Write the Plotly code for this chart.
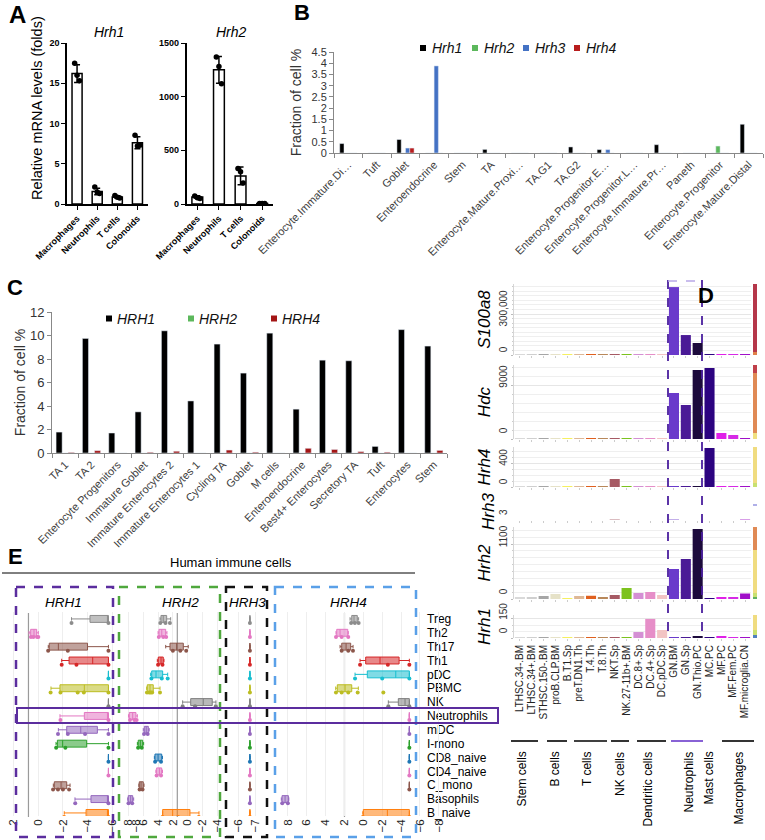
import plotly.graph_objects as go

W, H = 765, 840
FONT = "Arial, Liberation Sans, Helvetica, sans-serif"


def fx(p):
    return p / W


def fy(p):
    return 1 - p / H


def dom_x(a, b):
    return [fx(a), fx(b)]


def dom_y(top, bot):
    return [fy(bot), fy(top)]


def names(k):
    return ("x" if k == 1 else f"x{k}", "y" if k == 1 else f"y{k}",
            "xaxis" if k == 1 else f"xaxis{k}", "yaxis" if k == 1 else f"yaxis{k}")


def rgba(hexc, a):
    h = hexc.lstrip("#")
    return f"rgba({int(h[0:2],16)},{int(h[2:4],16)},{int(h[4:6],16)},{a})"


# ---------------- Panel A data ----------------
a_cats = ["Macrophages", "Neutrophils", "T cells", "Colonoids"]
a_hrh1_mean = [16.2, 1.55, 0.88, 7.6]
a_hrh1_sd = [1.1, 0.4, 0.15, 0.75]
a_hrh1_pts = [[17.5, 16.0, 15.3], [2.1, 1.5, 1.3], [1.05, 0.85, 0.75], [8.55, 7.2, 7.3]]
a_hrh2_mean = [65, 1250, 262, 4]
a_hrh2_sd = [12, 125, 82, 2]
a_hrh2_pts = [[75, 58, 52], [1370, 1280, 1120], [330, 300, 195], [4, 4, 4]]

# ---------------- Panel B data ----------------
b_cats = ["Enterocyte.Immature.Di…", "Tuft", "Goblet", "Enteroendocrine", "Stem", "TA",
          "Enterocyte.Mature.Proxi…", "TA.G1", "TA.G2", "Enterocyte.Progenitor.E…",
          "Enterocyte.Progenitor.L…", "Enterocyte.Immature.Pr…", "Paneth",
          "Enterocyte.Progenitor", "Enterocyte.Mature.Distal"]
b_hrh1 = [0.42, 0, 0.6, 0, 0, 0.16, 0, 0, 0.27, 0.15, 0, 0.37, 0, 0, 1.28]
b_hrh2 = [0, 0, 0, 0, 0, 0, 0, 0, 0, 0, 0, 0, 0, 0.31, 0]
b_hrh3 = [0, 0, 0.22, 3.88, 0, 0, 0, 0, 0, 0.15, 0, 0, 0, 0, 0]
b_hrh4 = [0, 0, 0.22, 0, 0, 0, 0, 0, 0, 0, 0, 0, 0, 0, 0]

# ---------------- Panel C data ----------------
c_cats = ["TA 1", "TA 2", "Enterocyte Progenitors", "Immature Goblet", "Immature Enterocytes 2",
          "Immature Enterocytes 1", "Cycling TA", "Goblet", "M cells", "Enteroendocrine",
          "Best4+ Enterocytes", "Secretory TA", "Tuft", "Enterocytes", "Stem"]
c_hrh1 = [1.78, 9.75, 1.7, 3.5, 10.4, 4.43, 9.27, 6.8, 10.2, 3.73, 7.9, 7.85, 0.56, 10.5, 9.1]
c_hrh2 = [0] * 15
c_hrh4 = [0.05, 0.2, 0, 0.06, 0.15, 0, 0.25, 0.07, 0, 0.4, 0.3, 0.12, 0.07, 0, 0.22]

# ---------------- Panel D data ----------------
d_cats = ["LTHSC.34-.BM", "LTHSC.34+.BM", "STHSC.150-.BM", "proB.CLP.BM", "B.T1.Sp",
          "preT.DN1.Th", "T.4.Th", "T.8.Th", "NKT.Sp", "NK.27-11b+.BM", "DC.8+.Sp",
          "DC.4+.Sp", "DC.pDC.Sp", "GN.BM", "GN.Sp", "GN.Thio.PC", "MC.PC", "MF.PC",
          "MF.Fem.PC", "MF.microglia.CN"]
d_colors = ["#d9d9d9", "#cfcfcf", "#a6a6a6", "#e6e2c8", "#f5f060", "#deb896", "#e0601e",
            "#b8885a", "#a65a64", "#7cc21e", "#d48fd4", "#e68ec8", "#f2c4c4", "#6a3acb",
            "#4a1a96", "#1c0a3c", "#2c0380", "#e020e8", "#d62ae6", "#a010c8"]
d_s100a8 = [800, 600, 900, 1500, 300, 200, 200, 200, 400, 1500, 1200, 1500, 1000,
            497000, 146000, 88000, 500, 600, 500, 300]
d_hdc = [20, 20, 30, 30, 10, 20, 15, 15, 30, 40, 60, 80, 100, 7670, 5670, 11500, 11830,
         1000, 670, 60]
d_hrh4 = [2, 2, 2, 2, 2, 2, 5, 2, 133, 10, 6, 3, 2, 1, 2, 4, 650, 2, 2, 2]
d_hrh3 = [0, 0, 0, 0, 0, 0, 0, 0, 0.15, 0, 0, 0, 0, 0.15, 0, 0, 0, 0, 0, 0.15]
d_hrh2 = [40, 40, 60, 100, 15, 60, 65, 35, 80, 220, 120, 140, 80, 600, 800, 1400, 15, 30,
          30, 110]
d_hrh1 = [2, 2, 2, 2, 2, 2, 2, 3, 2, 2, 47, 150, 63, 2, 2, 10, 2, 12, 2, 2]
d_groups = ["Stem cells", "B cells", "T cells", "NK cells", "Dendritic cells", "Neutrophils",
            "Mast cells", "Macrophages"]

# ---------------- Panel E data ----------------
e_cats = ["Treg", "Th2", "Th17", "Th1", "pDC", "PBMC", "NK", "Neutrophils", "mDC", "I-mono",
          "CD8_naive", "CD4_naive", "C_mono", "Basophils", "B_naive"]
e_colors = ["#8c8c8c", "#e377c2", "#8c564b", "#d62728", "#17becf", "#bcbd22", "#7f7f7f",
            "#e377c2", "#9467bd", "#2ca02c", "#1f77b4", "#e377c2", "#8c564b", "#9467bd",
            "#ff7f0e"]
F1, F4 = -5.7, -4.88
# [min, q1, median, q3, max]
e_hrh1 = [[F1, F1, F1, -4.2, -2.7], [0.0, 0.13, 0.35, 0.62, 0.75], [F1, -4.0, -1.63, -0.89, -0.81],
          [F1, F1, -4.42, -2.5, -1.9], [F1] * 5, [F1, F1, -3.74, -1.76, -1.03], [F1] * 5,
          [F1, F1, F1, -3.74, -1.76], [F1, -4.8, -3.45, -2.31, -1.63],
          [F1, -3.93, -1.98, -1.55, -1.44], [F1] * 5, [F1] * 5,
          [-2.58, -2.31, -1.85, -1.3, -1.22], [F1, F1, F1, -4.28, -2.98], [F1, F1, F1, -3.88, -2.11]]
e_hrh1_pts = [[-2.7, F1], [0.6, 0.4, 0.1, 0.0], [-0.8, -2.4, F1], [-1.9, -3.1, F1], [F1],
              [-1.0, -1.8, -3.2, -3.7, F1], [F1], [-1.8, F1], [-1.6, -2.4, -3.8, F1],
              [-1.45, -2.2, F1], [F1], [F1], [-1.2, -1.6, -2.0, -2.5], [-3.0, F1], [-2.1, F1]]
e_hrh2 = [[2.3, 2.84, 3.3, 3.61, 3.74], [2.8, 2.97, 3.5, 3.88, 4.0], [-0.08, 0.59, 1.49, 2.39, 2.97],
          [3.2, 3.3, 3.6, 3.97, 4.1], [2.7, 3.38, 4.28, 4.86, 5.0], [3.74, 4.65, 5.09, 5.46, 5.54],
          [-3.82, -3.32, -2.11, -0.41, 0.68], [6.8, 6.99, 7.43, 7.89, 8.0], [5.2, 5.32, 5.6, 5.86, 6.0],
          [5.95, 6.08, 6.4, 6.68, 6.8], [3.4, 3.51, 4.0, 4.42, 4.5], [3.4, 3.51, 3.8, 4.19, 4.3],
          [5.9, 6.0, 6.3, 6.54, 6.6], [7.3, 7.43, 7.7, 8.03, 8.1], [-1.53, -0.31, 2.03, 3.38, 3.38]]
e_hrh2_pts = [[3.7, 3.0, 2.4], [3.9, 3.3, 2.9], [2.0, 1.0, 0.2], [4.0, 3.4], [4.9, 3.5, 2.7],
              [5.5, 5.2, 5.0, 4.8, 3.74], [0.68, -1.0, -3.8], [7.8, 7.2, 6.9], [5.9, 5.4],
              [6.7, 6.2], [4.4, 3.6], [4.2, 3.6], [6.5, 6.1], [8.0, 7.5], [3.4, 1.3, -1.5]]
e_hrh3 = [[-6.7] * 5 for _ in range(15)]
e_hrh3_pts = [[-6.7] for _ in range(15)]
e_hrh4 = [[0.5, 0.64, 0.99, 1.23, 1.41], [1.59, 1.65, 2.47, 2.82, 2.9], [1.09, 1.34, 1.83, 2.29, 2.47],
          [F4, -3.79, -1.77, -0.25, 0.35], [F4, F4, -3.44, -0.42, 0.88], [0.53, 1.23, 1.94, 2.76, 2.93],
          [F4, F4, -4.42, -3.71, -2.65], [F4] * 5, [F4] * 5, [F4] * 5, [F4] * 5, [F4] * 5, [F4] * 5,
          [7.9, 7.95, 8.3, 8.62, 8.7], [F4, F4, -2.55, 0.0, 0.06]]
e_hrh4_pts = [[1.3, 0.9, 0.5], [2.9, 2.3, 1.6], [2.3, 1.6, 1.1], [0.35, -2.6, F4], [0.88, -2.0, F4],
              [2.9, 2.3, 1.6, 0.6, -2.12], [-2.65, F4], [F4], [F4], [F4], [F4], [F4], [F4],
              [8.6, 8.0], [0.05, F4]]
e_ref_line = [0.8, 1.4, None, 2.0]

fig = go.Figure()
L = {}
ann = []
shp = []


def add_text(t, x, y, size, angle=0, xa="center", ya="middle", color="black"):
    ann.append(dict(text=t, x=fx(x), y=fy(y), xref="paper", yref="paper", showarrow=False,
                    font=dict(size=size, color=color), xanchor=xa, yanchor=ya, textangle=angle))


def add_rect(x0, y0, x1, y1, color, width=0, dash="solid", fill=None):
    d = dict(type="rect", xref="paper", yref="paper", x0=fx(x0), x1=fx(x1), y0=fy(y0), y1=fy(y1),
             line=dict(color=color, width=width, dash=dash), layer="above")
    if fill:
        d["fillcolor"] = fill
    shp.append(d)


def add_line(x0, y0, x1, y1, color, width=1, dash="solid"):
    shp.append(dict(type="line", xref="paper", yref="paper", x0=fx(x0), x1=fx(x1), y0=fy(y0),
                    y1=fy(y1), line=dict(color=color, width=width, dash=dash), layer="above"))


def legend_item(label, color, sq_x, text_x, yc, size, sq=6):
    add_rect(sq_x, yc - sq / 2, sq_x + sq, yc + sq / 2, color, 0, fill=color)
    add_text(f"<i>{label}</i>", text_x, yc, size, xa="left", color="#111")


# ================= Panel A =================
JIT = [-0.12, 0.0, 0.12]
a_panels = [("Hrh1", a_hrh1_mean, a_hrh1_sd, a_hrh1_pts, 20, 5, (67, 147.5)),
            ("Hrh2", a_hrh2_mean, a_hrh2_sd, a_hrh2_pts, 1500, 500, (186.5, 273))]
for k, (nm, mean, sd, pts, ymax, dt, xd) in enumerate(a_panels, start=1):
    xa, ya, xk, yk = names(k)
    idx = list(range(len(a_cats)))
    fig.add_trace(go.Bar(x=idx, y=mean, width=0.5,
                         marker=dict(color="white", line=dict(color="black", width=1.5)),
                         error_y=dict(type="data", array=sd, color="black", thickness=1.5, width=3),
                         xaxis=xa, yaxis=ya, showlegend=False))
    sx, sy = [], []
    for i, vals in enumerate(pts):
        for j, v in enumerate(vals):
            sx.append(i + JIT[j])
            sy.append(v)
    fig.add_trace(go.Scatter(x=sx, y=sy, mode="markers", marker=dict(color="black", size=5.5),
                             xaxis=xa, yaxis=ya, showlegend=False))
    L[xk] = dict(domain=dom_x(*xd), anchor=ya, range=[-0.5, 3.5], tickvals=idx, ticktext=a_cats,
                 tickangle=-45, ticks="outside", ticklen=4, tickwidth=1.2, tickcolor="black",
                 showline=True, linecolor="black", linewidth=1.5, showgrid=False, zeroline=False,
                 tickfont=dict(size=9, weight="bold", color="black"))
    L[yk] = dict(domain=dom_y(43, 204), anchor=xa, range=[0, ymax], dtick=dt, ticks="outside",
                 ticklen=4, tickwidth=1.2, tickcolor="black", showline=True, linecolor="black",
                 linewidth=1.5, showgrid=False, zeroline=False,
                 tickfont=dict(size=9, weight="bold", color="black"))
    add_text(f"<i>{nm}</i>", (xd[0] + xd[1]) / 2 + 2, 32, 14)
add_text("Relative mRNA levels (folds)", 37, 108, 14.5, angle=-90)
add_text("<b>A</b>", 17, 14, 24)

# ================= Panel B =================
b_series = [("Hrh1", b_hrh1, "#000000"), ("Hrh2", b_hrh2, "#5cb85c"),
            ("Hrh3", b_hrh3, "#4472c4"), ("Hrh4", b_hrh4, "#b81d1d")]
b_leg_x = [420, 472, 523, 574]
for j, (nm, vals, col) in enumerate(b_series):
    fig.add_trace(go.Bar(x=b_cats, y=vals, name=nm, marker_color=col, width=0.15,
                         offset=-0.3 + 0.15 * j, xaxis="x3", yaxis="y3", showlegend=False))
    legend_item(nm, col, b_leg_x[j], b_leg_x[j] + 10, 48, 14)
L["xaxis3"] = dict(domain=dom_x(334, 763), anchor="y3", type="category", tickangle=-45,
                   tickfont=dict(size=11, color="#404040"), ticks="outside", tickson="boundaries",
                   ticklen=4, tickcolor="#888", showline=True, linecolor="#888", showgrid=False,
                   zeroline=False, tickmode="linear", dtick=1)
L["yaxis3"] = dict(domain=dom_y(52, 153), anchor="x3", range=[0, 4.5], dtick=0.5, ticks="outside",
                   ticklen=4, tickcolor="#888", showline=True, linecolor="#888", showgrid=False,
                   zeroline=False, tickfont=dict(size=11, color="#333"),
                   title=dict(text="Fraction of cell %", font=dict(size=14, color="#333"), standoff=6))
add_text("<b>B</b>", 302, 13, 22)

# ================= Panel C =================
c_series = [("HRH1", c_hrh1, "#000000"), ("HRH2", c_hrh2, "#5cb85c"), ("HRH4", c_hrh4, "#a31515")]
c_leg_x = [106, 188, 271]
for j, (nm, vals, col) in enumerate(c_series):
    fig.add_trace(go.Bar(x=c_cats, y=vals, name=nm, marker_color=col, width=0.23,
                         offset=-0.345 + 0.23 * j, xaxis="x4", yaxis="y4", showlegend=False))
    legend_item(nm, col, c_leg_x[j], c_leg_x[j] + 9, 318.5, 14)
L["xaxis4"] = dict(domain=dom_x(52, 447), anchor="y4", type="category", tickangle=-45,
                   tickfont=dict(size=11, color="#404040"), ticks="outside", tickson="boundaries",
                   ticklen=4, tickcolor="#888", showline=True, linecolor="#888", showgrid=False,
                   zeroline=False, tickmode="linear", dtick=1)
L["yaxis4"] = dict(domain=dom_y(312, 453), anchor="x4", range=[0, 12], dtick=2, ticks="outside",
                   ticklen=4, tickcolor="#888", showline=True, linecolor="#888", showgrid=False,
                   zeroline=False, tickfont=dict(size=13, color="#333"),
                   title=dict(text="Fraction of cell %", font=dict(size=14, color="#333"), standoff=1))
add_text("<b>C</b>", 15, 287, 22)

# ================= Panel D =================
d_rows = [  # name, values, range, dtick, minor dtick, fmt, (top,bottom), label shift
    ("S100a8", d_s100a8, [0, 519500], 300000, 300000 / 9, ",d", (284, 355), -4),
    ("Hdc", d_hdc, [0, 12333], 9000, 1500, "d", (365, 439), -7),
    ("Hrh4", d_hrh4, [0, 667], 400, 100, "d", (447, 487), -4),
    ("Hrh3", d_hrh3, [0, 3.6], None, None, "d", (503, 520), 0),
    ("Hrh2", d_hrh2, [0, 1440], 1100, 1100 / 8, "d", (527, 599), -6),
    ("Hrh1", d_hrh1, [0, 181], 150, 50, "d", (615, 638), -6),
]
for r, (nm, vals, rng, dt, mdt, fmt, (top, bot), shift) in enumerate(d_rows):
    k = 5 + r
    xa, ya, xk, yk = names(k)
    special = dt is None
    fig.add_trace(go.Bar(x=d_cats, y=vals, marker=dict(color=d_colors, line=dict(width=0)),
                         width=0.85, xaxis=xa, yaxis=ya, showlegend=False,
                         opacity=0.4 if special else 1))
    last = r == len(d_rows) - 1
    L[xk] = dict(domain=dom_x(514, 751), anchor=ya, type="category", showticklabels=last,
                 tickmode="linear", dtick=1,
                 tickangle=-90, tickfont=dict(size=10, color="#222"), ticks="outside", ticklen=2,
                 tickcolor="#cccccc", showline=False, showgrid=False, zeroline=False)
    yd = dict(domain=dom_y(top, bot), anchor=xa, range=rng, tickangle=-90,
              tickfont=dict(size=10, color="#333"), ticks="outside", ticklen=2, tickcolor="#bbb",
              showline=True, linecolor="#d6d6d6", linewidth=1, zeroline=False,
              ticklabelshift=shift, title=dict(text=f"<i>{nm}</i>", font=dict(size=17), standoff=3))
    if not special:
        yd.update(tick0=0, dtick=dt, tickformat=fmt, showgrid=True, gridcolor="#e6e6e6",
                  minor=dict(dtick=mdt, showgrid=True, gridcolor="#efefef", ticks="outside",
                             ticklen=1.5, tickcolor="#cccccc"))
    else:
        yd.update(showticklabels=False, ticks="", showgrid=False, showline=False,
                  title=dict(text=f"<i>{nm}</i>", font=dict(size=17), standoff=14))
    L[yk] = yd
add_text("3", 503, 512, 10, angle=-90, color="#333")

# dashed neutrophil frame
add_line(668, 280, 668, 640, "#4b1f9e", 1.8, "dash")
add_line(702, 280, 702, 640, "#4b1f9e", 1.8, "dash")
add_line(668, 281, 702, 281, "#b8a8e8", 1.5, "dash")
# right colour strips
strips = [(284, 352, "#b5374a"), (352, 355, "#e0804a"),
          (365, 373, "#c0404a"), (373, 433, "#e08a55"), (433, 439, "#f0e080"),
          (447, 483, "#f0dc80"), (483, 487, "#c8e070"),
          (504, 506, "#b0b0e8"),
          (527, 550, "#e08a55"), (550, 593, "#f0dc80"), (593, 597, "#c8e070"), (597, 599, "#60b060"),
          (615, 630, "#f0dc80"), (630, 635, "#c8e070"), (635, 638, "#5080c0")]
for (t, b, c) in strips:
    add_rect(753, t, 757, b, c, 0, fill=c)
# group lines and labels
g_lines = [(511, 538, "black"), (547, 567, "black"), (574, 607, "black"), (611, 629, "black"),
           (637, 666, "black"), (671, 703, "#6a3acb"), None, (722, 754, "black")]
g_x = [521, 554, 587, 620, 647, 688, 708, 738]
for gname, gl, gx in zip(d_groups, g_lines, g_x):
    if gl:
        add_line(gl[0], 741, gl[1], 741, gl[2], 1.6)
    add_text(gname, gx, 750, 12, angle=-90, ya="top")
add_text("<b>D</b>", 706, 295, 22)

# ================= Panel E =================
e_genes = [("HRH1", e_hrh1, e_hrh1_pts, (10, 137), [2.3, -8.02], [2, 0, -2, -4, -6, -8]),
           ("HRH2", e_hrh2, e_hrh2_pts, (125, 222), [8.47, -4.64], [8, 6, 4, 2, 0, -2, -4]),
           ("HRH3", e_hrh3, e_hrh3_pts, (230, 262), [-5.53, -7.41], [-6, -7]),
           ("HRH4", e_hrh4, e_hrh4_pts, (278, 440), [9.05, -8.13], [8, 6, 4, 2, 0, -2, -4, -6, -8])]
for g, (gname, stats, pts, xd, rng, tvals) in enumerate(e_genes):
    k = 11 + g
    xa, _, xk, _ = names(k)
    for i, (lo, q1, med, q3, hi) in enumerate(stats):
        col = e_colors[i]
        fig.add_trace(go.Box(y=[i], q1=[q1], median=[med], q3=[q3], lowerfence=[lo],
                             upperfence=[hi], orientation="h", width=0.5, whiskerwidth=0.5,
                             line=dict(color=col, width=1), fillcolor=rgba(col, 0.55),
                             marker=dict(color=col), boxpoints=False, xaxis=xa, yaxis="y11",
                             showlegend=False, hoverinfo="skip"))
    px_, py_, pc_ = [], [], []
    for i, vals in enumerate(pts):
        for v in vals:
            px_.append(v)
            py_.append(i + 0.3)
            pc_.append(e_colors[i])
    fig.add_trace(go.Scatter(x=px_, y=py_, mode="markers", marker=dict(color=pc_, size=4),
                             xaxis=xa, yaxis="y11", showlegend=False))
    L[xk] = dict(domain=dom_x(*xd), anchor="y11", range=rng, tickvals=tvals, tickangle=-90,
                 tickfont=dict(size=11.5, color="#222"), ticks="", showline=False, showgrid=True,
                 gridcolor="#eeeeee", zeroline=False)
    if e_ref_line[g] is not None:
        shp.append(dict(type="line", xref=xa, yref="paper", x0=e_ref_line[g], x1=e_ref_line[g],
                        y0=fy(613), y1=fy(817), line=dict(color="#9a9a9a", width=1.2),
                        layer="below"))
L["yaxis11"] = dict(domain=dom_y(612, 816), range=[14.22, -0.5], tickvals=list(range(15)),
                    ticktext=e_cats, side="right", anchor="free", position=fx(426),
                    showgrid=False, zeroline=False, ticks="", showline=False,
                    tickfont=dict(size=12, color="black"))

box_cols = [("#5b2d9e", 16, 113), ("#4fa83d", 119, 220), ("#111111", 226, 267), ("#5aa0e8", 275, 416)]
for c, x0, x1 in box_cols:
    add_rect(x0, 587, x1, 837, c, 2.5, "dash")
for gname, xc in zip(["HRH1", "HRH2", "HRH3", "HRH4"], [63, 180, 247, 348]):
    add_text(f"<i>{gname}</i>", xc, 602, 13.5)
add_rect(17, 708, 498, 723, "#5b2d9e", 2)
add_text("Human immune cells", 231, 562, 13)
add_line(2, 573, 415, 573, "black", 1)
add_text("<b>E</b>", 15, 556, 22)

fig.update_layout(width=W, height=H,
                  margin=dict(l=0, r=0, t=0, b=0, pad=0, autoexpand=False),
                  paper_bgcolor="white", plot_bgcolor="rgba(0,0,0,0)",
                  font=dict(family=FONT, color="black"), showlegend=False,
                  barmode="overlay", annotations=ann, shapes=shp, **L)
fig.write_html("out.html", config={"displayModeBar": False},
               post_script="document.body.style.margin='0px';")
